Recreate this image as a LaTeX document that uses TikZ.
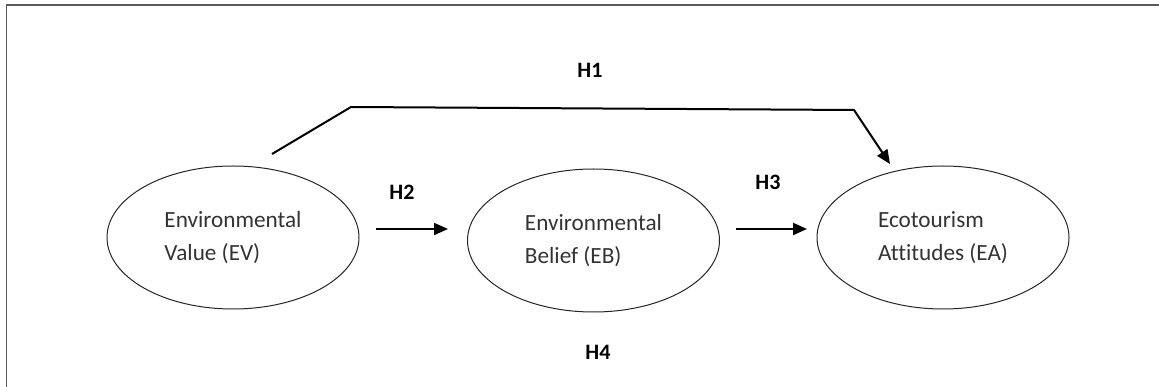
\documentclass[tikz,border=0pt]{standalone}
\usepackage{fontspec}
\setmainfont{Carlito}[Ligatures=NoCommon]
\usetikzlibrary{shapes.geometric,arrows.meta}
\begin{document}
\begin{tikzpicture}[x=1pt,y=-1pt,
  construct/.style={ellipse,draw=black!85,line width=1pt,minimum width=252pt,minimum height=143pt,inner sep=0pt,
    align=left,font=\fontsize{23.2}{33}\selectfont,text=black!80},
  hlabel/.style={font=\fontsize{22}{26}\selectfont\bfseries,text=black},
  path/.style={line width=2pt,-{Triangle[length=14pt,width=12pt]}},
  frame/.style={draw=black!65,line width=1.6pt}]
\useasboundingbox (0,0) rectangle (1159,387);
\draw[frame] (6.5,387) -- (6.5,5) -- (1159,5);

\node[construct] (EV) at (233,237.5) {Environmental\\Value (EV)};
\node[construct] (EB) at (593.5,240.5) {Environmental\\Belief (EB)};
\node[construct] (EA) at (943,237.5) {Ecotourism\\Attitudes (EA)};

\coordinate (h2s) at (376,229);
\coordinate (h2e) at (448,229);
\coordinate (h3s) at (736,229);
\coordinate (h3e) at (807,229);
\coordinate (h1s) at (272,154);
\coordinate (h1a) at (351,107);
\coordinate (h1b) at (854,110);
\coordinate (h1e) at (890,164);

\draw[path] (h2s) -- (h2e);
\draw[path] (h3s) -- (h3e);
\draw[path,line join=miter] (h1s) -- (h1a) -- (h1b) -- (h1e);

\node[hlabel] (H1) at (590,70) {H1};
\node[hlabel] (H2) at (402,192) {H2};
\node[hlabel] (H3) at (768,182) {H3};
\node[hlabel] (H4) at (598,352) {H4};
\end{tikzpicture}
\end{document}
